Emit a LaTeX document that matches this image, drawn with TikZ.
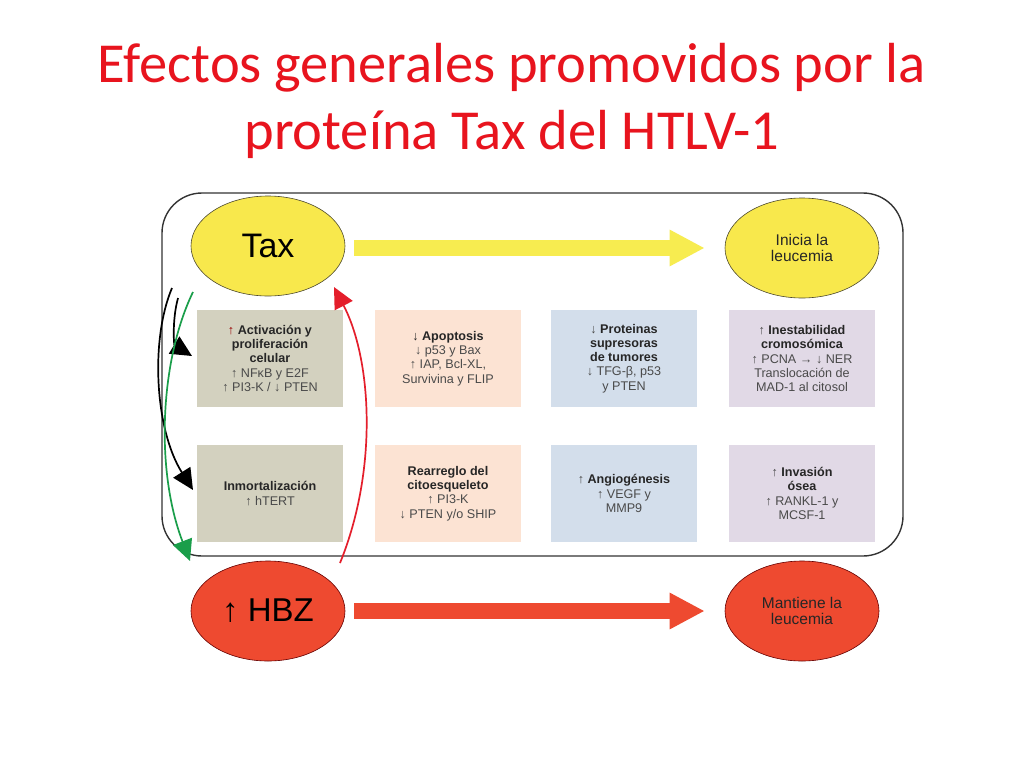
\documentclass[tikz,border=0pt]{standalone}
\usepackage{fontspec}
\setmainfont{Liberation Sans}
\newfontfamily\titlefont{Carlito}
\usetikzlibrary{shapes.geometric,arrows.meta}
\definecolor{titlered}{HTML}{E8141E}
\definecolor{taxyellow}{HTML}{F8E84C}
\definecolor{arryellow}{HTML}{F7EC50}
\definecolor{hbzred}{HTML}{EE4A30}
\definecolor{boxA}{HTML}{D3D1BF}
\definecolor{boxB}{HTML}{FCE3D3}
\definecolor{boxC}{HTML}{D3DEEB}
\definecolor{boxD}{HTML}{E1D9E6}
\definecolor{arrgreen}{HTML}{1A9E4A}
\definecolor{arrred}{HTML}{E41E2B}
\definecolor{txtgrey}{HTML}{4A4A4A}
\newcommand{\hd}[1]{{\bfseries\color{black!85}#1}}
\begin{document}
\begin{tikzpicture}[x=1pt,y=-1pt,
  oval/.style={ellipse,draw=#1,line width=0.6pt,minimum width=154pt,minimum height=100pt,inner sep=0pt,align=center},
  infobox/.style={rectangle,fill=#1,minimum width=146pt,minimum height=97pt,inner sep=2pt,align=center,
    font=\fontsize{12.6}{14.2}\selectfont,text=txtgrey},
  bigarrow/.style={line width=16pt,draw=#1,-{Triangle[length=35pt,width=34pt]}},
  curvearrow/.style={line width=1.7pt,draw=#1,-{Triangle[length=21pt,width=20pt]}}
]
\useasboundingbox (0,0) rectangle (1024,768);
\fill[white] (0,0) rectangle (1024,768);
% title
\node[font=\titlefont\fontsize{56.5}{67}\selectfont,text=titlered,align=center] (title) at (512,101) {Efectos generales promovidos por la\\proteína Tax del HTLV-1};
% outer frame
\draw[line width=1.4pt,draw=black!80,rounded corners=40pt] (162,193) rectangle (903,556);
% ovals
\node[oval=black!60!olive,fill=taxyellow,font=\fontsize{34}{38}\selectfont] (tax) at (268,246) {Tax};
\node[oval=black!60!olive,fill=taxyellow,font=\fontsize{15.5}{16.5}\selectfont,text=black!85] (inicia) at (802,248) {Inicia la\\leucemia};
\node[oval=black!60!red,fill=hbzred,font=\fontsize{33}{38}\selectfont] (hbz) at (268,611) {↑ HBZ};
\node[oval=black!60!red,fill=hbzred,font=\fontsize{15.5}{16.5}\selectfont,text=black!85] (mantiene) at (802,611) {Mantiene la\\leucemia};
% big arrows
\draw[bigarrow=arryellow,shorten <=9pt,shorten >=20pt] (tax.east |- 0,248) -- (inicia.west |- 0,248);
\draw[bigarrow=hbzred,shorten <=9pt,shorten >=20pt] (hbz.east) -- (mantiene.west);
% boxes
\node[infobox=boxA] (b1) at (270,358.5) {{\color{red!60!black}↑} \hd{Activación y}\\\hd{proliferación}\\\hd{celular}\\↑ NFκB y E2F\\↑ PI3-K / ↓ PTEN};
\node[infobox=boxB] (b2) at (448,358.5) {\hd{↓ Apoptosis}\\↓ p53 y Bax\\↑ IAP, Bcl-XL,\\Survivina y FLIP};
\node[infobox=boxC] (b3) at (624,358.5) {↓ \hd{Proteinas}\\\hd{supresoras}\\\hd{de tumores}\\↓ TFG-β, p53\\y PTEN};
\node[infobox=boxD] (b4) at (802,358.5) {↑ \hd{Inestabilidad}\\\hd{cromosómica}\\↑ PCNA → ↓ NER\\Translocación de\\MAD-1 al citosol};
\node[infobox=boxA] (b5) at (270,493.5) {\hd{Inmortalización}\\↑ hTERT};
\node[infobox=boxB] (b6) at (448,493.5) {\hd{Rearreglo del}\\\hd{citoesqueleto}\\↑ PI3-K\\↓ PTEN y/o SHIP};
\node[infobox=boxC] (b7) at (624,493.5) {↑ \hd{Angiogénesis}\\↑ VEGF y\\MMP9};
\node[infobox=boxD] (b8) at (802,493.5) {↑ \hd{Invasión}\\\hd{ósea}\\↑ RANKL-1 y\\MCSF-1};
% curved arrows
\coordinate (k1s) at (178,298);
\coordinate (k1e) at (192,356);
\coordinate (k2s) at (172,288);
\coordinate (k2e) at (193,490);
\coordinate (gs) at (193,292);
\coordinate (ge) at (190,561);
\coordinate (rs) at (340,563);
\coordinate (re) at (334,287);
\draw[curvearrow=black] (k1s) .. controls (172,320) and (174,345) .. (k1e);
\draw[curvearrow=black] (k2s) .. controls (150,340) and (155,430) .. (k2e);
\draw[curvearrow=arrgreen] (gs) .. controls (160,360) and (155,470) .. (ge);
\draw[curvearrow=arrred] (rs) .. controls (378,470) and (372,360) .. (re);
\end{tikzpicture}
\end{document}
